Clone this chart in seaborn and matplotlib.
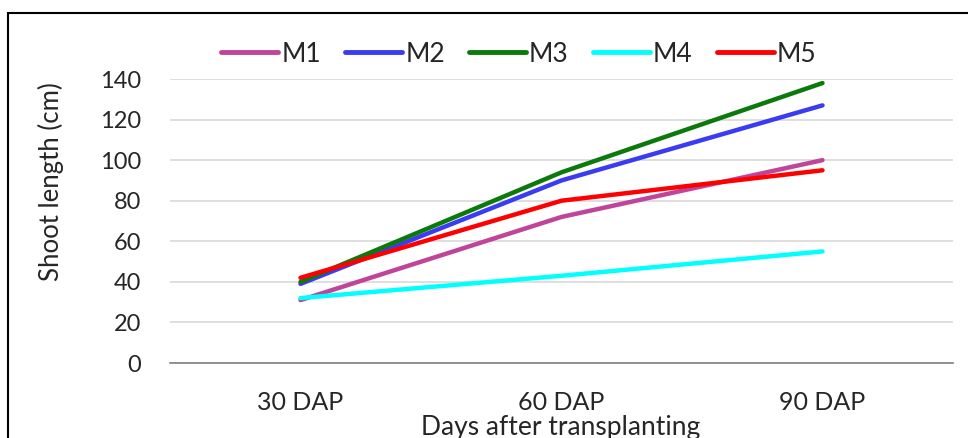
import matplotlib
matplotlib.use("Agg")
import matplotlib.pyplot as plt
from matplotlib.patches import Rectangle
import pandas as pd
import seaborn as sns

# Shoot length (cm) by treatment at each sampling stage
stages = ["30 DAP", "60 DAP", "90 DAP"]
m1 = [31, 72, 100]
m2 = [39, 90, 127]
m3 = [40, 94, 138]
m4 = [32, 43, 55]
m5 = [42, 80, 95]
series_names = ["M1", "M2", "M3", "M4", "M5"]
colors = ["#C0449A", "#3B3BF2", "#0B7A0B", "#00FFFF", "#FF0000"]
y_ticks = [0, 20, 40, 60, 80, 100, 120, 140]

rows = []
for name, vals in zip(series_names, [m1, m2, m3, m4, m5]):
    for stage, v in zip(stages, vals):
        rows.append({"Stage": stage, "Length": v, "Treatment": name})
df = pd.DataFrame(rows)

sns.set_theme(style="white")
plt.rcParams["font.family"] = ["Lato", "DejaVu Sans"]

W, H = 968, 438
TXT = "#262626"
fig = plt.figure(figsize=(W / 100, H / 100), dpi=100)
ax = fig.add_axes([170 / W, 1 - 363 / H, (953 - 170) / W, (363 - 79) / H])

sns.lineplot(data=df, x="Stage", y="Length", hue="Treatment",
             palette=dict(zip(series_names, colors)), linewidth=3.2,
             sort=False, ax=ax, legend=False)

ax.set_xlim(-0.5, 2.5)
ax.set_ylim(0, 140)
ax.set_yticks(y_ticks)
ax.set_yticklabels([str(t) for t in y_ticks], fontsize=17, color=TXT)
ax.set_xticks(range(len(stages)))
ax.set_xticklabels(stages, fontsize=18, color=TXT)
ax.tick_params(axis="y", length=0, pad=21)
ax.tick_params(axis="x", length=0, pad=20)
ax.set_xlabel("")
ax.set_ylabel("")
ax.grid(axis="y", color="#D9D9D9", linewidth=1.2)
ax.set_axisbelow(True)
for side in ["top", "right", "left"]:
    ax.spines[side].set_visible(False)
ax.spines["bottom"].set_color("#808080")
ax.spines["bottom"].set_linewidth(1.2)

fig.text(51 / W, 1 - 182 / H, "Shoot length (cm)", rotation=90,
         ha="center", va="center", fontsize=18.5, color=TXT)
fig.text(561 / W, 1 - 427 / H, "Days after transplanting",
         ha="center", va="center", fontsize=19, color=TXT)

handles = [plt.Line2D([], [], color=c, linewidth=3.5) for c in colors]
fig.legend(handles, series_names, loc="center", ncol=5,
           bbox_to_anchor=(519 / W, 1 - 54 / H), frameon=False,
           fontsize=19, handlelength=2.15, handletextpad=0.12,
           columnspacing=0.92, labelcolor=TXT)

fig.patches.append(Rectangle((8 / W, -0.1), 1.2, 1 - 13 / H + 0.1,
                             transform=fig.transFigure, fill=False,
                             edgecolor="black", linewidth=1.5))

fig.savefig("out.png", dpi=100)
